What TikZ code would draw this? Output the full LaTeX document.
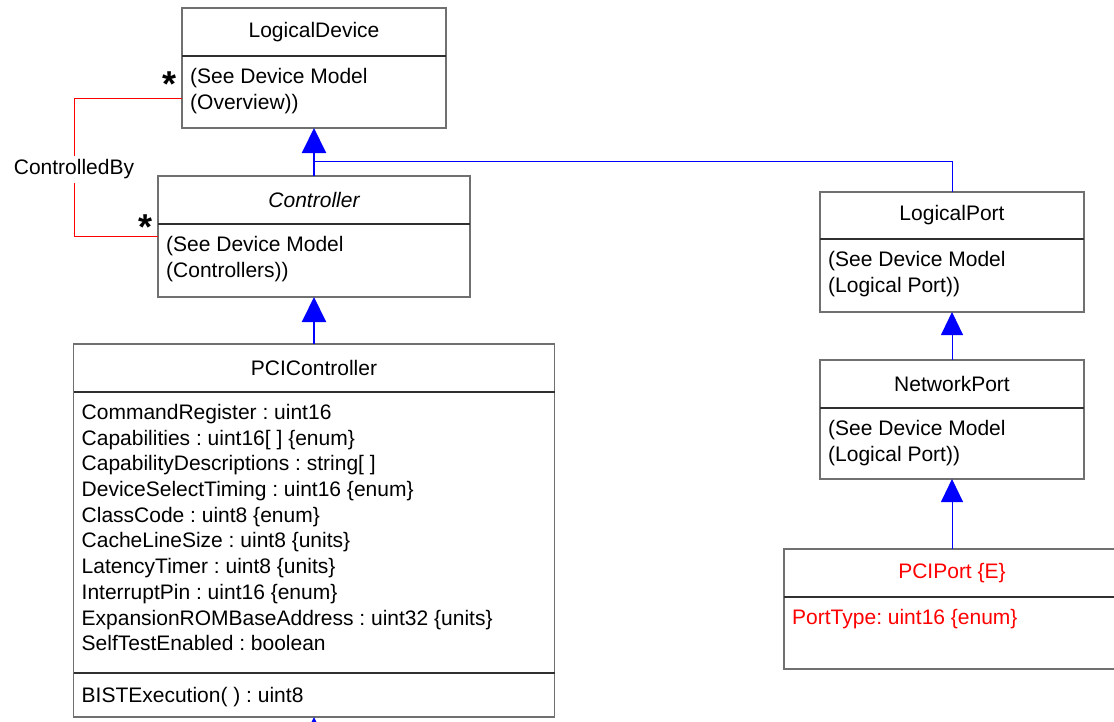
\documentclass[tikz,border=0pt]{standalone}
\usepackage{fontspec}
\setmainfont{Liberation Sans}
\usetikzlibrary{positioning,arrows.meta}
\definecolor{boxgray}{RGB}{112,112,112}
\definecolor{rulegray}{RGB}{48,48,48}
\frenchspacing
\begin{document}
\begin{tikzpicture}
        [
        x = 1pt, y = -1pt,
        every node/.style = {font=\fontsize{21}{25.7}\selectfont},
        head/.style = {rectangle, draw=boxgray, line width=1.2pt, outer sep=0pt, minimum height=48pt},
        body/.style = {rectangle, draw=boxgray, line width=1.2pt, outer sep=0pt, minimum height=72pt},
        ]
        \tikzstyle{attr text}=[anchor=north west, inner sep=0pt, align=left, xshift=8pt, yshift=-12pt]
        \tikzstyle{divider}=[rulegray, line width=1.2pt]
        \tikzstyle{gen thick}=[blue, line width=2pt, -{Triangle[length=25pt,width=24pt]}]
        \tikzstyle{gen thin}=[blue, line width=1pt, -{Triangle[length=23pt,width=22pt]}]
        \tikzstyle{assoc}=[red, line width=1pt]
        \tikzstyle{mult}=[anchor=base, inner sep=0pt, font=\fontsize{36}{36}\selectfont\bfseries]

        \useasboundingbox (0,0) rectangle (1114,721);

        % left column
        \node[head, minimum width=264pt] (ldev) at (314,32) {LogicalDevice};
        \node[body, minimum width=264pt, below=0pt of ldev] (ldevb) {};
        \node[attr text] (ldevt) at (ldevb.north west) {(See Device Model\\(Overview))};

        \node[head, minimum width=312pt] (ctrl) at (314,200) {\itshape Controller};
        \node[body, minimum width=312pt, minimum height=73pt, below=0pt of ctrl] (ctrlb) {};
        \node[attr text] (ctrlt) at (ctrlb.north west) {(See Device Model\\(Controllers))};

        \node[head, minimum width=481pt] (pcic) at (314,368) {PCIController};
        \node[body, minimum width=481pt, minimum height=281pt, below=0pt of pcic] (pcicb) {};
        \node[attr text] (pcict) at (pcicb.north west)
            {CommandRegister : uint16\\
             Capabilities : uint16[ ] \{enum\}\\
             CapabilityDescriptions : string[ ]\\
             DeviceSelectTiming : uint16 \{enum\}\\
             ClassCode : uint8 \{enum\}\\
             CacheLineSize : uint8 \{units\}\\
             LatencyTimer : uint8 \{units\}\\
             InterruptPin : uint16 \{enum\}\\
             ExpansionROMBaseAddress : uint32 \{units\}\\
             SelfTestEnabled : boolean};
        \node[body, minimum width=481pt, minimum height=44pt, below=0pt of pcicb] (pcico) {};
        \node[attr text, yshift=-2pt] (pcicm) at (pcico.north west) {BISTExecution( ) : uint8};

        % right column
        \node[head, minimum width=264pt, minimum height=47pt] (lport) at (952,215.5) {LogicalPort};
        \node[body, minimum width=264pt, minimum height=73pt, below=0pt of lport] (lportb) {};
        \node[attr text] (lportt) at (lportb.north west) {(See Device Model\\(Logical Port))};

        \node[head, minimum width=264pt] (nport) at (952,384) {NetworkPort};
        \node[body, minimum width=264pt, minimum height=71pt, below=0pt of nport] (nportb) {};
        \node[attr text] (nportt) at (nportb.north west) {(See Device Model\\(Logical Port))};

        \node[head, minimum width=336pt, text=red] (pciport) at (952,573) {PCIPort \{E\}};
        \node[body, minimum width=336pt, below=0pt of pciport] (pciportb) {};
        \node[attr text, text=red] (pciportt) at (pciportb.north west) {PortType: uint16 \{enum\}};

        % compartment lines
        \draw[divider] (ldev.south west) -- (ldev.south east);
        \draw[divider] (ctrl.south west) -- (ctrl.south east);
        \draw[divider] (pcic.south west) -- (pcic.south east);
        \draw[divider] (pcicb.south west) -- (pcicb.south east);
        \draw[divider] (lport.south west) -- (lport.south east);
        \draw[divider] (nport.south west) -- (nport.south east);
        \draw[divider] (pciport.south west) -- (pciport.south east);

        % inheritance
        \coordinate (join) at (314,161);
        \coordinate (offpage) at (314,760);
        \draw[blue, line width=1pt] (lport.north) |- (join);
        \draw[gen thick] (ctrl.north) -- (ldevb.south);
        \draw[gen thick] (pcic.north) -- (ctrlb.south);
        \draw[gen thick] (offpage) -- (pcico.south);
        \draw[gen thin] (nport.north) -- (lportb.south);
        \draw[gen thin] (pciport.north) -- (nportb.south);

        % association
        \coordinate (ldevend) at ([yshift=-6pt]ldevb.west);
        \coordinate (ctrlend) at ([yshift=24.5pt]ctrlb.west);
        \node[fill=white, anchor=base, inner sep=3.5pt] (ctrlby) at (74,174.5) {ControlledBy};
        \draw[assoc] (ldevend) -| (ctrlby.north);
        \draw[assoc] (ctrlby.south) |- (ctrlend);
        \node[mult] (ldevstar) at (170,96) {*};
        \node[mult] (ctrlstar) at (146,239) {*};
\end{tikzpicture}
\end{document}
